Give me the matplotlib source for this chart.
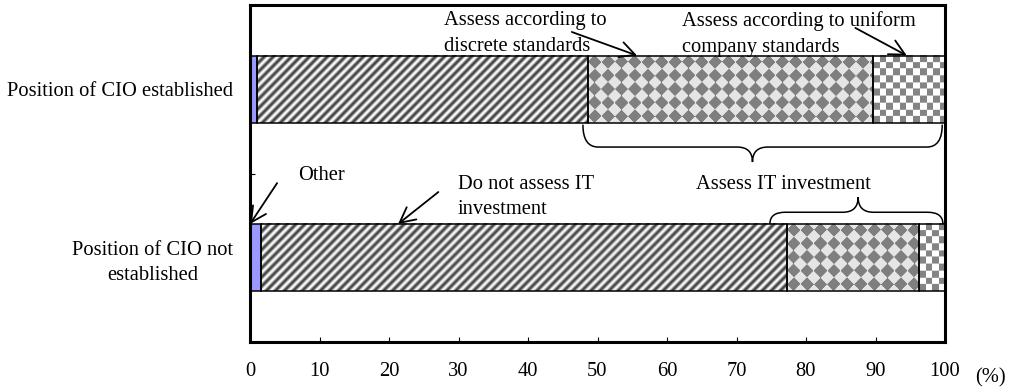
import numpy as np
import matplotlib
matplotlib.use("Agg")
import matplotlib.pyplot as plt
from matplotlib.path import Path
from matplotlib.patches import PathPatch

# Share of companies (%) by how IT investment is assessed
categories = ["Position of CIO not\nestablished", "Position of CIO established"]
other = [1.6, 1.0]
not_assessed = [75.6, 47.7]
discrete_std = [19.1, 41.0]
uniform_std = [3.7, 10.3]
x_ticks = [0, 10, 20, 30, 40, 50, 60, 70, 80, 90, 100]

plt.rcParams['font.family'] = ['Liberation Serif', 'DejaVu Serif']
plt.rcParams['font.size'] = 14.8

fig = plt.figure(figsize=(10.14, 3.92), dpi=100)
ax = fig.add_axes([250 / 1014, 1 - 342 / 392, 695 / 1014, 337 / 392])
ax.set_xlim(0, 100)
ax.set_ylim(-0.5, 1.5)

ypos = np.arange(len(categories))
bar_h = 0.4

series = [
    (other, '#9999FF', None),
    (not_assessed, 'white', 'stripes'),
    (discrete_std, '#e6e6e6', 'diamonds'),
    (uniform_std, 'white', 'checks'),
]


def texture(kind, w, h):
    X, Y = np.meshgrid(np.arange(w) + 0.5, np.arange(h) + 0.5)
    if kind == 'stripes':
        t = 0.5 + 0.5 * np.cos(2 * np.pi * (X + Y) / 9.0)
        g = 1.0 - 0.75 * t
    elif kind == 'diamonds':
        p = 13.4
        c = (np.floor((X + Y + p / 2) / p) + np.floor((X - Y + p / 2) / p)) % 2
        g = np.where(c > 0, 0.50, 0.90)
    else:
        s = 6.7
        c = (np.floor(X / s) + np.floor(Y / s)) % 2
        g = np.where(c > 0, 0.52, 1.0)
    return np.dstack([g, g, g])


left = np.zeros(len(categories))
for vals, fc, kind in series:
    bars = ax.barh(ypos, vals, left=left, height=bar_h, color=fc,
                   edgecolor='none', zorder=1)
    if kind is not None:
        for rect in bars:
            x0, y0 = rect.get_x(), rect.get_y()
            x1, y1 = x0 + rect.get_width(), y0 + rect.get_height()
            (px0, py0), (px1, py1) = ax.transData.transform([(x0, y0), (x1, y1)])
            w = max(int(round(px1 - px0)), 1)
            h = max(int(round(py1 - py0)), 1)
            ax.imshow(texture(kind, w, h), extent=(x0, x1, y0, y1),
                      origin='upper', aspect='auto', interpolation='bilinear',
                      zorder=2)
    ax.barh(ypos, vals, left=left, height=bar_h, fill=False,
            edgecolor='black', linewidth=1.1, zorder=3)
    left = left + np.asarray(vals)

ax.set_xlim(0, 100)
ax.set_ylim(-0.5, 1.5)

# Axes, ticks and frame
ax.set_xticks(x_ticks)
ax.set_xticklabels([str(t) for t in x_ticks])
ax.tick_params(axis='x', direction='in', length=3.6, width=0.8, pad=14.5)
ax.set_yticks(ypos)
ax.set_yticklabels(categories)
ax.tick_params(axis='y', which='major', length=0, pad=12)
for lab in ax.get_yticklabels():
    lab.set_multialignment('center')
    lab.set_linespacing(1.4)
ax.set_yticks([0.5], minor=True)
ax.tick_params(axis='y', which='minor', direction='in', length=3.6, width=0.8)
for sp in ax.spines.values():
    sp.set_linewidth(2.2)
    sp.set_zorder(6)

fig.text(990 / 1014, 1 - 378 / 392, "(%)", ha='center', va='center')

# Callouts
arrow_kw = dict(arrowstyle='->,head_length=0.55,head_width=0.28', lw=1.3,
                color='black', shrinkA=0, shrinkB=0, mutation_scale=20)

ax.text(27.9, 1.33, "Assess according to\ndiscrete standards",
        ha='left', va='center', linespacing=1.45, zorder=4)
ax.annotate('', xy=(55.7, 1.2), xytext=(46.3, 1.34), arrowprops=arrow_kw)

ax.text(62.2, 1.327, "Assess according to uniform\ncompany standards",
        ha='left', va='center', linespacing=1.45, zorder=4)
ax.annotate('', xy=(94.5, 1.2), xytext=(87.1, 1.364), arrowprops=arrow_kw)

ax.text(6.9, 0.487, "Other", ha='left', va='center', zorder=4)
ax.annotate('', xy=(0.0, 0.2), xytext=(3.9, 0.443), arrowprops=arrow_kw)

ax.text(29.9, 0.36, "Do not assess IT\ninvestment",
        ha='left', va='center', linespacing=1.4, zorder=4)
ax.annotate('', xy=(21.3, 0.2), xytext=(27.1, 0.39), arrowprops=arrow_kw)

ax.text(76.7, 0.435, "Assess IT investment", ha='center', va='center', zorder=4)


def brace(x0, xm, x1, y_tip, y_mid, y_cusp, r=2.2):
    verts = [(x0, y_tip), (x0, y_mid), (x0 + r, y_mid),
             (xm - r, y_mid),
             (xm, y_mid), (xm, y_cusp),
             (xm, y_mid), (xm + r, y_mid),
             (x1 - r, y_mid),
             (x1, y_mid), (x1, y_tip)]
    codes = [Path.MOVETO, Path.CURVE3, Path.CURVE3, Path.LINETO,
             Path.CURVE3, Path.CURVE3, Path.CURVE3, Path.CURVE3,
             Path.LINETO, Path.CURVE3, Path.CURVE3]
    ax.add_patch(PathPatch(Path(verts, codes), fill=False, lw=1.1,
                           edgecolor='black', zorder=4))


brace(47.9, 72.3, 99.6, 0.79, 0.657, 0.568)
brace(74.8, 87.5, 99.7, 0.2, 0.27, 0.36)

fig.savefig("out.png", dpi=100)
